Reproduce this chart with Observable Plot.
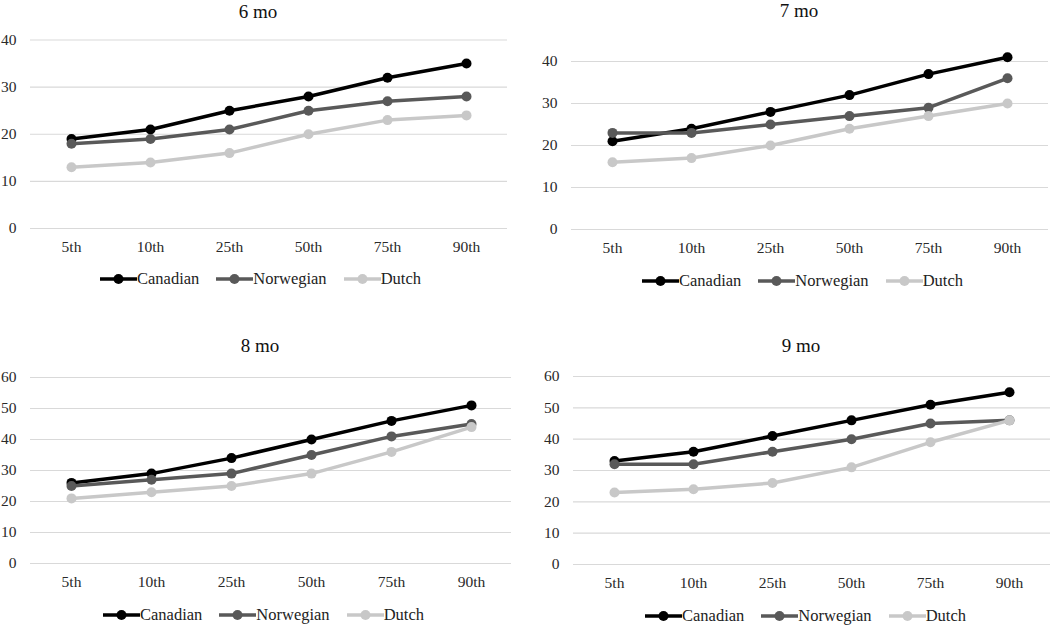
<!DOCTYPE html>
<html><head><meta charset="utf-8">
<script src="https://cdn.jsdelivr.net/npm/d3@7"></script>
<script src="https://cdn.jsdelivr.net/npm/@observablehq/plot@0.6"></script>
<style>
body{margin:0;background:#fff;}
#root, #root *{font-family:"Liberation Serif","Times New Roman",serif !important;}
#root{position:relative;width:1053px;height:628px;overflow:hidden;background:#fff;}
#root svg.plot{position:absolute;}
#root svg.plot text{font-size:15.5px !important;}
.title{position:absolute;font-size:19px;transform:translate(-50%,-50%);white-space:nowrap;color:#111;}
.legend{position:absolute;display:flex;align-items:center;gap:17px;font-size:16.5px;transform:translateY(-50%);white-space:nowrap;color:#222;}
.item{display:flex;align-items:center;}
</style></head><body><div id="root"></div>
<script>
const percentiles = ["5th","10th","25th","50th","75th","90th"];
const groups = ["Canadian","Norwegian","Dutch"];
const groupColors = ["#000000","#595959","#c8c8c8"];
const panelTitles = ["6 mo","7 mo","8 mo","9 mo"];
const yTicks6 = [0,10,20,30,40];
const yTicks7 = [0,10,20,30,40];
const yTicks8 = [0,10,20,30,40,50,60];
const yTicks9 = [0,10,20,30,40,50,60];

const canadian6 = [19,21,25,28,32,35];
const norwegian6 = [18,19,21,25,27,28];
const dutch6 = [13,14,16,20,23,24];

const canadian7 = [21,24,28,32,37,41];
const norwegian7 = [23,23,25,27,29,36];
const dutch7 = [16,17,20,24,27,30];

const canadian8 = [26,29,34,40,46,51];
const norwegian8 = [25,27,29,35,41,45];
const dutch8 = [21,23,25,29,36,44];

const canadian9 = [33,36,41,46,51,55];
const norwegian9 = [32,32,36,40,45,46];
const dutch9 = [23,24,26,31,39,46];

const panels = [
  {title: panelTitles[0], series: [canadian6, norwegian6, dutch6], ticks: yTicks6,
   left: 0, top: 0, width: 520, height: 262, mL: 30, mR: 13, mT: 39.5, mB: 34,
   tx: 258, ty: 12, lx: 100, ly: 279},
  {title: panelTitles[1], series: [canadian7, norwegian7, dutch7], ticks: yTicks7,
   left: 530, top: 0, width: 523, height: 262, mL: 41, mR: 5, mT: 61, mB: 33,
   tx: 799, ty: 11, lx: 642, ly: 281},
  {title: panelTitles[2], series: [canadian8, norwegian8, dutch8], ticks: yTicks8,
   left: 0, top: 320, width: 520, height: 277, mL: 30, mR: 9, mT: 57, mB: 34,
   tx: 260, ty: 346, lx: 103, ly: 615},
  {title: panelTitles[3], series: [canadian9, norwegian9, dutch9], ticks: yTicks9,
   left: 530, top: 320, width: 523, height: 278, mL: 43, mR: 3, mT: 56, mB: 34,
   tx: 801, ty: 346, lx: 645, ly: 616}
];

const root = document.getElementById("root");

for (const p of panels) {
  const rows = [];
  groups.forEach((g, gi) => {
    p.series[gi].forEach((v, i) => rows.push({group: g, pct: percentiles[i], value: v}));
  });
  const marks = [
    Plot.gridY(p.ticks, {stroke: "#d9d9d9", strokeOpacity: 1, strokeWidth: 1.2}),
    Plot.axisY(p.ticks, {tickSize: 0, tickPadding: 14, fill: "#2a2a2a"}),
    Plot.axisX({tickSize: 0, tickPadding: 12, fill: "#2a2a2a"})
  ];
  groups.forEach((g, gi) => {
    const d = rows.filter(r => r.group === g);
    marks.push(Plot.line(d, {x: "pct", y: "value", stroke: groupColors[gi], strokeWidth: 3.5}));
    marks.push(Plot.dot(d, {x: "pct", y: "value", fill: groupColors[gi], r: 5}));
  });
  const svg = Plot.plot({
    width: p.width, height: p.height,
    marginLeft: p.mL, marginRight: p.mR, marginTop: p.mT, marginBottom: p.mB,
    style: {background: "transparent"},
    x: {type: "point", domain: percentiles, padding: 0.5, label: null},
    y: {domain: [0, d3.max(p.ticks)], label: null},
    marks
  });
  svg.classList.add("plot");
  svg.style.left = p.left + "px";
  svg.style.top = p.top + "px";
  root.appendChild(svg);

  const t = document.createElement("div");
  t.className = "title";
  t.textContent = p.title;
  t.style.left = p.tx + "px";
  t.style.top = p.ty + "px";
  root.appendChild(t);

  const lg = document.createElement("div");
  lg.className = "legend";
  lg.style.left = p.lx + "px";
  lg.style.top = p.ly + "px";
  groups.forEach((g, gi) => {
    const it = document.createElement("div");
    it.className = "item";
    it.innerHTML = `<svg width="37" height="12" style="display:block"><line x1="0" x2="37" y1="6" y2="6" stroke="${groupColors[gi]}" stroke-width="3.5"/><circle cx="18.5" cy="6" r="5" fill="${groupColors[gi]}"/></svg><span>${g}</span>`;
    lg.appendChild(it);
  });
  root.appendChild(lg);
}
</script></body></html>
